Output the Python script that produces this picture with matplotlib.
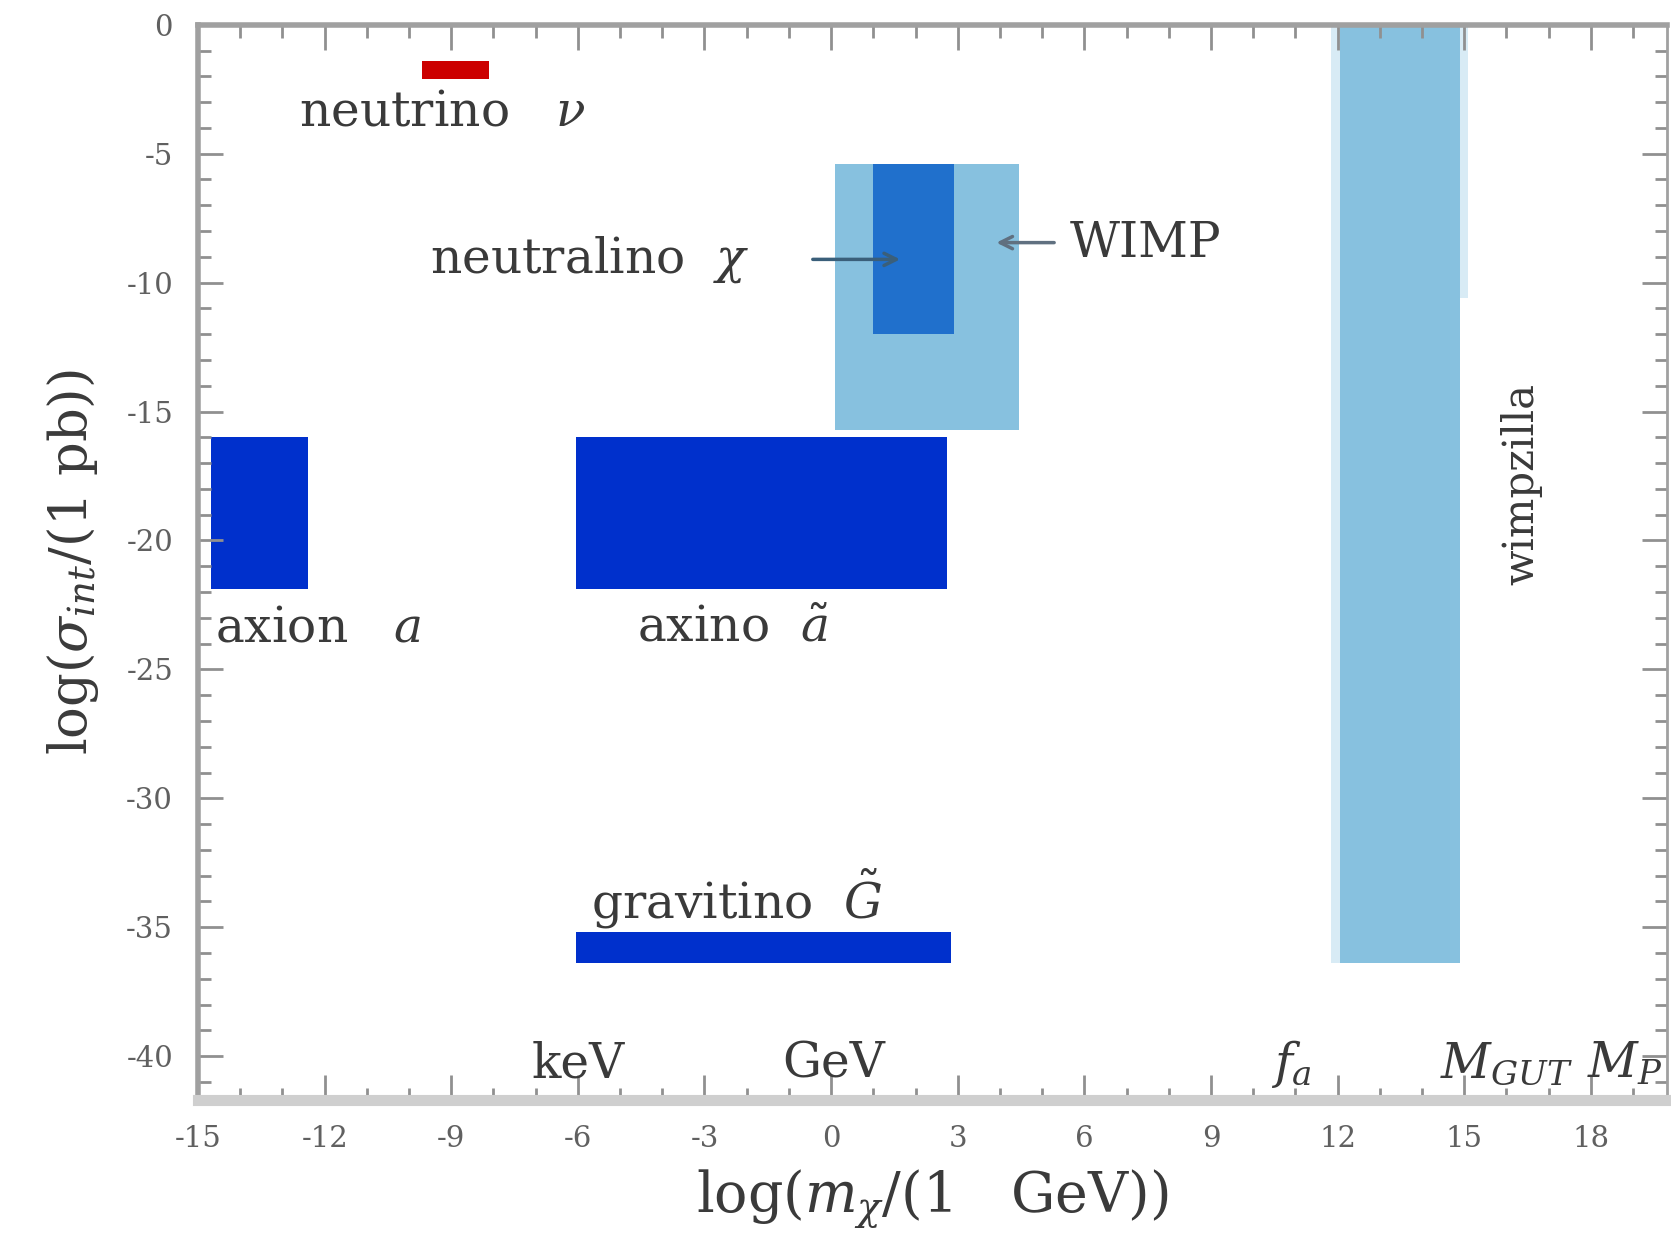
import matplotlib
matplotlib.use('Agg')
import matplotlib.pyplot as plt
from matplotlib.patches import Rectangle
from matplotlib.ticker import MultipleLocator, FixedLocator

plt.rcParams['font.family'] = ['DejaVu Serif', 'DejaVu Sans']
plt.rcParams['mathtext.fontset'] = 'dejavuserif'

# ---- data (log10 mass in GeV, log10 cross section in pb) ----
box_names = ['neutrino', 'WIMP', 'neutralino', 'axion', 'axino', 'gravitino', 'wimpzilla']
box_x_lo = [-9.7, 0.1, 1.0, -14.7, -6.05, -6.05, 12.05]
box_x_hi = [-8.1, 4.45, 2.9, -12.4, 2.75, 2.85, 14.9]
box_y_lo = [-2.1, -15.7, -12.0, -21.9, -21.9, -36.4, -36.4]
box_y_hi = [-1.4, -5.4, -5.4, -16.0, -16.0, -35.2, 0.0]
box_colors = ['#cc0000', '#87c1df', '#2070cc', '#0030cc', '#0030cc', '#0030cc', '#87c1df']

# pale halo strips at the edges of the wimpzilla band
halo_x_lo = [11.85, 14.9]
halo_x_hi = [12.05, 15.1]
halo_y_lo = [-36.4, -10.6]
halo_y_hi = [0.0, 0.0]

label_texts = [r'neutrino   $\nu$', r'neutralino  $\chi$', 'WIMP', r'axion   $a$',
               r'axino  $\tilde{a}$', r'gravitino  $\tilde{G}$']
label_x = [-12.6, -9.5, 5.65, -14.6, -4.6, -5.7]
label_y = [-3.4, -9.1, -8.5, -23.4, -23.4, -33.9]

scale_texts = ['keV', 'GeV', r'$f_a$', r'$M_{GUT}$', r'$M_P$']
scale_x = [-6.0, 0.05, 10.9, 16.0, 18.8]
scale_y = -40.3

x_ticks = [-15, -12, -9, -6, -3, 0, 3, 6, 9, 12, 15, 18]
y_ticks = [0, -5, -10, -15, -20, -25, -30, -35, -40]

fig = plt.figure(figsize=(16.71, 12.36), dpi=100)
ax = fig.add_axes([0.1185, 0.110, 0.879, 0.870])

for xl, xh, yl, yh in zip(halo_x_lo, halo_x_hi, halo_y_lo, halo_y_hi):
    ax.add_patch(Rectangle((xl, yl), xh - xl, yh - yl, facecolor='#d8ebf5', edgecolor='none'))

for xl, xh, yl, yh, c in zip(box_x_lo, box_x_hi, box_y_lo, box_y_hi, box_colors):
    ax.add_patch(Rectangle((xl, yl), xh - xl, yh - yl, facecolor=c, edgecolor='none'))

txtc = '#3a3a3a'
for t, x, y in zip(label_texts, label_x, label_y):
    ax.text(x, y, t, fontsize=35, color=txtc, ha='left', va='center')

ax.text(16.35, -17.8, 'wimpzilla', fontsize=30, color=txtc, rotation=90,
        ha='center', va='center')

# arrows
ax.annotate('', xy=(1.7, -9.1), xytext=(-0.5, -9.1),
            arrowprops=dict(arrowstyle='->', color='#3a5f7a', lw=2.5, mutation_scale=22))
ax.annotate('', xy=(3.85, -8.45), xytext=(5.35, -8.45),
            arrowprops=dict(arrowstyle='->', color='#607080', lw=2.5, mutation_scale=22))

for t, x in zip(scale_texts, scale_x):
    ax.text(x, scale_y, t, fontsize=35, color=txtc, ha='center', va='center')

ax.set_xlim(-15, 19.8)
ax.set_ylim(-41.7, 0)
ax.xaxis.set_major_locator(FixedLocator(x_ticks))
ax.yaxis.set_major_locator(FixedLocator(y_ticks))
ax.xaxis.set_minor_locator(MultipleLocator(1))
ax.yaxis.set_minor_locator(MultipleLocator(1))
ax.set_xticklabels([str(v) for v in x_ticks])
ax.set_yticklabels([str(v) for v in y_ticks])

ax.tick_params(which='both', direction='in', top=True, right=True, color='#909090',
               labelcolor='#606060', labelsize=21)
ax.tick_params(which='major', length=18, width=2, pad=18)
ax.tick_params(which='minor', length=9, width=2)

for s in ['left', 'top']:
    ax.spines[s].set_color('#a0a0a0')
    ax.spines[s].set_linewidth(4)
ax.spines['bottom'].set_color('#cfcfcf')
ax.spines['bottom'].set_linewidth(8)
ax.spines['right'].set_color('#a0a0a0')
ax.spines['right'].set_linewidth(2)

ax.set_xlabel(r'log($m_\chi$/(1   GeV))', fontsize=40, color=txtc, labelpad=10)
ax.set_ylabel(r'log($\sigma_{int}$/(1 pb))', fontsize=38, color=txtc, labelpad=18)

fig.savefig('out.png', dpi=100)
